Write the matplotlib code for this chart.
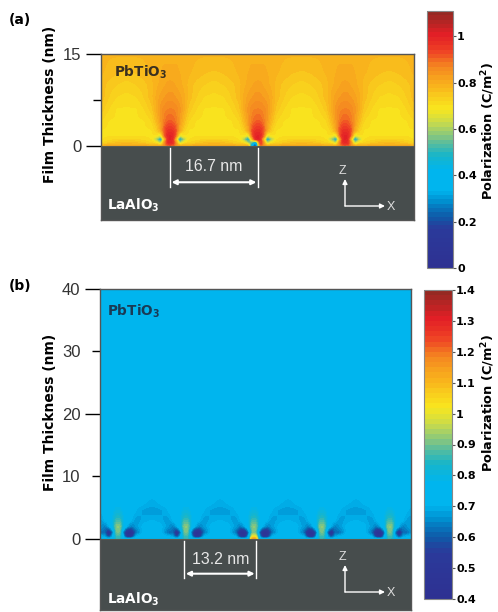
import numpy as np
import matplotlib
matplotlib.use('Agg')
import matplotlib.pyplot as plt
from matplotlib.colors import LinearSegmentedColormap

W, H = 498, 612
plt.rcParams['font.family'] = 'DejaVu Sans'
plt.rcParams['mathtext.default'] = 'regular'

# colours
cmap_stops = [(0.00, '#2e3192'), (0.15, '#2b3a9a'), (0.20, '#0f5aa8'), (0.26, '#0090d0'),
              (0.30, '#00b5ee'), (0.38, '#00b5ee'), (0.44, '#19b5c8'), (0.50, '#6fc08f'),
              (0.56, '#c3d950'), (0.62, '#f9e71e'), (0.70, '#f9b91c'), (0.78, '#f58a20'),
              (0.85, '#ee3d25'), (0.91, '#e21f26'), (1.00, '#8e2a22')]
cmap = LinearSegmentedColormap.from_list('pol', cmap_stops)
substrate = '#474d4d'

# panel (a): polarization over one period, mirrored around the dislocation
a_dx_half = [0.4, 1.1, 1.8, 2.6, 3.5, 5.0, 6.5, 8.35]
a_z = [0, 0.5, 1.1, 1.7, 2.5, 4, 6, 8, 10, 12, 15]
a_half = [[0.90, 0.85, 0.80, 0.80, 0.80, 0.80, 0.80, 0.80],
          [0.98, 0.85, 0.60, 0.70, 0.72, 0.74, 0.76, 0.77],
          [1.00, 0.76, 0.42, 0.58, 0.70, 0.71, 0.72, 0.72],
          [1.00, 0.90, 0.64, 0.70, 0.70, 0.70, 0.70, 0.70],
          [0.97, 0.92, 0.80, 0.73, 0.70, 0.70, 0.70, 0.70],
          [0.91, 0.88, 0.83, 0.77, 0.72, 0.70, 0.70, 0.70],
          [0.87, 0.86, 0.84, 0.80, 0.75, 0.72, 0.70, 0.70],
          [0.84, 0.83, 0.82, 0.80, 0.77, 0.74, 0.72, 0.715],
          [0.82, 0.81, 0.80, 0.79, 0.77, 0.75, 0.74, 0.73],
          [0.80, 0.80, 0.795, 0.79, 0.78, 0.77, 0.76, 0.755],
          [0.79, 0.79, 0.79, 0.785, 0.785, 0.78, 0.78, 0.78]]
a_centers = [13.2, 29.9, 46.6]
a_period = 16.7
a_xmax = 59.7
a_ticks = [0, 7.5, 15]
a_ticklabels = ['0', '', '15']
a_cbar_ticks = [0, 0.2, 0.4, 0.6, 0.8, 1]
a_cbar_labels = ['0', '0.2', '0.4', '0.6', '0.8', '1']
a_spacing = '16.7 nm'

# panel (b): same idea, thicker film
b_dx_half = [0.4, 1.0, 1.8, 2.6, 3.5, 5.0, 6.6]
b_z = [0, 0.4, 1, 2, 3, 4.5, 5.5, 7, 10, 40]
b_half = [[0.85, 0.72, 0.72, 0.72, 0.72, 0.72, 0.72],
          [0.86, 0.70, 0.47, 0.50, 0.70, 0.72, 0.72],
          [0.90, 0.62, 0.44, 0.44, 0.62, 0.72, 0.72],
          [0.92, 0.78, 0.68, 0.64, 0.67, 0.71, 0.72],
          [0.86, 0.79, 0.73, 0.70, 0.67, 0.69, 0.70],
          [0.80, 0.77, 0.74, 0.72, 0.70, 0.675, 0.665],
          [0.77, 0.75, 0.73, 0.72, 0.71, 0.70, 0.69],
          [0.74, 0.73, 0.725, 0.72, 0.715, 0.71, 0.705],
          [0.72, 0.72, 0.72, 0.715, 0.715, 0.71, 0.71],
          [0.72, 0.72, 0.72, 0.72, 0.72, 0.72, 0.72]]
b_centers = [3.5, 16.7, 29.9, 43.1, 56.3]
b_period = 13.2
b_xmax = 60.4
b_ticks = [0, 10, 20, 30, 40]
b_ticklabels = ['0', '10', '20', '30', '40']
b_cbar_ticks = [0.4, 0.5, 0.6, 0.7, 0.8, 0.9, 1, 1.1, 1.2, 1.3, 1.4]
b_cbar_labels = ['0.4', '0.5', '0.6', '0.7', '0.8', '0.9', '1', '1.1', '1.2', '1.3', '1.4']
b_spacing = '13.2 nm'
# outer lobe is smaller on these dislocations: (index, side)
b_small_lobes = [(0, -1), (1, -1), (3, 1), (4, 1)]


def px_axes(fig, left, top, right, bottom):
    return fig.add_axes([left / W, 1 - bottom / H, (right - left) / W, (bottom - top) / H])


def tile_field(dx_half, half, centers, period):
    half = np.array(half)
    dx = np.r_[-np.array(dx_half)[::-1], dx_half]
    cell = np.c_[half[:, ::-1], half]
    xs, vals = [], []
    for k in range(-1, len(centers) + 1):
        xs.append(centers[0] + k * period + dx)
        vals.append(cell)
    return np.concatenate(xs), np.hstack(vals)


def smooth(x, z, v, xmax, zmax):
    # resample onto a fine grid and blur a little, the scan of the original is soft
    xf = np.linspace(0, xmax, 500)
    zf = np.r_[np.linspace(0, 12, 220), np.linspace(12.1, zmax, 60)]
    tmp = np.array([np.interp(xf, x, row) for row in v])
    fine = np.array([np.interp(zf, z, tmp[:, i]) for i in range(len(xf))]).T
    box = np.ones(5) / 5
    fine = np.apply_along_axis(lambda r: np.convolve(np.pad(r, 2, mode='edge'), box, mode='valid'), 1, fine)
    fine = np.apply_along_axis(lambda r: np.convolve(np.pad(r, 2, mode='edge'), box, mode='valid'), 0, fine)
    return xf, zf, fine


def draw_panel(fig, box, cbox, x, z, v, xmax, zmax, zmin, vmin, vmax, ticks, ticklabels,
               cticks, clabels, lines):
    ax = px_axes(fig, *box)
    xf, zf, fine = smooth(x, z, v, xmax, zmax)
    levels = np.linspace(vmin, vmax, 61)
    cf = ax.contourf(xf, zf, np.clip(fine, vmin, vmax), levels=levels, cmap=cmap, vmin=vmin, vmax=vmax)
    ax.axhspan(zmin, 0, color=substrate, lw=0)
    ax.axhline(0, color='#5a5a50', lw=0.8)
    ax.set_xlim(0, xmax)
    ax.set_ylim(zmin, zmax)
    ax.set_xticks([])
    ax.set_yticks(ticks)
    ax.set_yticklabels(ticklabels, fontfamily='Liberation Sans', fontsize=12, color='#333333')
    ax.tick_params(axis='y', length=11, width=1, pad=3)
    for s in ax.spines.values():
        s.set_color('#555555')
        s.set_linewidth(1)

    # spacing marker
    for lx in lines:
        ax.plot([lx, lx], [zmin * 0.03, zmin * 0.55], color='white', lw=1)
    ax.annotate('', xy=(lines[0], zmin * 0.49), xytext=(lines[1], zmin * 0.49),
                arrowprops=dict(arrowstyle='<|-|>', color='white', lw=1.5, mutation_scale=7, shrinkA=1, shrinkB=1))

    cax = px_axes(fig, *cbox)
    cb = fig.colorbar(cf, cax=cax)
    cb.set_ticks(cticks)
    cb.set_ticklabels(clabels)
    cb.ax.tick_params(length=2, width=0.8, pad=1, labelsize=8, color='#555555')
    for t in cb.ax.get_yticklabels():
        t.set_fontweight('bold')
    cb.outline.set_edgecolor('#888888')
    return ax


def px_text(fig, px, py, s, **kw):
    fig.text(px / W, 1 - py / H, s, **kw)


def axes_marker(ax, fig, cx, cy, top, right):
    # little z/x direction marker, in pixels
    trans = fig.transFigure
    ax.annotate('', xy=(cx / W, 1 - top / H), xytext=(cx / W, 1 - cy / H), xycoords=trans, textcoords=trans,
                arrowprops=dict(arrowstyle='-|>', color='white', lw=1, mutation_scale=7, shrinkA=0, shrinkB=0))
    ax.annotate('', xy=(right / W, 1 - cy / H), xytext=(cx / W, 1 - cy / H), xycoords=trans, textcoords=trans,
                arrowprops=dict(arrowstyle='-|>', color='white', lw=1, mutation_scale=7, shrinkA=0, shrinkB=0))
    px_text(fig, cx - 3, top - 8, 'Z', color='#dddddd', ha='center', va='center', fontsize=9, fontfamily='Liberation Sans')
    px_text(fig, right + 6, cy + 1, 'X', color='#dddddd', ha='center', va='center', fontsize=9, fontfamily='Liberation Sans')


fig = plt.figure(figsize=(W / 100, H / 100), dpi=100)

xa, va = tile_field(a_dx_half, a_half, a_centers, a_period)
# blue spot under the middle dislocation: third tile, columns just left of centre
va = va.copy()
va[0, 39] = 0.12
va[1, 39] = 0.22
va[0, 38] = 0.30
va[1, 38] = 0.50
ax_a = draw_panel(fig, (101, 54, 414, 220), (427, 11, 453, 268), xa, a_z, va, a_xmax, 15, -12.07,
                  0, 1.11, a_ticks, a_ticklabels, a_cbar_ticks, a_cbar_labels, [13.2, 29.9])
ax_a.yaxis.get_major_ticks()[1].tick1line.set_markersize(6)

xb, vb = tile_field(b_dx_half, b_half, b_centers, b_period)
vb = vb.copy()
n_half = len(b_dx_half)
for k, side in b_small_lobes:
    # tile k+1, outer lobe columns at dx 1.8 and 2.6
    first = (k + 1) * 2 * n_half
    c18 = first + n_half + 2 if side > 0 else first + n_half - 3
    c26 = first + n_half + 3 if side > 0 else first + n_half - 4
    vb[1, c18], vb[2, c18] = 0.55, 0.46
    vb[1, c26], vb[2, c26] = 0.68, 0.62
# yellow tip at the third dislocation
vb[0, 3 * 2 * n_half + n_half - 1] = 1.15
vb[0, 3 * 2 * n_half + n_half] = 1.15
vb[1, 3 * 2 * n_half + n_half - 1] = 1.0
vb[1, 3 * 2 * n_half + n_half] = 1.0
ax_b = draw_panel(fig, (100, 289, 411, 610), (424, 290, 452, 599), xb, b_z, vb, b_xmax, 40, -11.4,
                  0.4, 1.4, b_ticks, b_ticklabels, b_cbar_ticks, b_cbar_labels, [16.4, 30.3])
ax_b.yaxis.get_major_ticks()[1].tick1line.set_markersize(6)
ax_b.yaxis.get_major_ticks()[3].tick1line.set_markersize(6)

label_kw = dict(fontweight='bold', rotation=90, ha='center', va='center', fontsize=10)
cbar_kw = dict(label_kw, fontsize=9.3)
px_text(fig, 50, 104, 'Film Thickness (nm)', **label_kw)
px_text(fig, 50, 412, 'Film Thickness (nm)', **label_kw)
px_text(fig, 488, 131, 'Polarization (C/m$^{2}$)', **cbar_kw)
px_text(fig, 488, 403, 'Polarization (C/m$^{2}$)', **cbar_kw)

px_text(fig, 20, 20, '(a)', fontweight='bold', fontsize=10, ha='center', va='center')
px_text(fig, 20, 286, '(b)', fontweight='bold', fontsize=10, ha='center', va='center')

name_kw = dict(fontweight='bold', fontsize=9.8, ha='left', va='center')
px_text(fig, 114, 72, 'PbTiO$_{3}$', color='#3a3020', **name_kw)
px_text(fig, 107, 311, 'PbTiO$_{3}$', color='#1a3a55', **name_kw)
px_text(fig, 107, 205, 'LaAlO$_{3}$', color='white', **name_kw)
px_text(fig, 107, 599, 'LaAlO$_{3}$', color='white', **name_kw)

px_text(fig, 214, 167, a_spacing, color='#e8e8e8', fontsize=11.4, ha='center', va='center', fontfamily='Liberation Sans')
px_text(fig, 221, 560, b_spacing, color='#e8e8e8', fontsize=11.4, ha='center', va='center', fontfamily='Liberation Sans')

axes_marker(ax_a, fig, 345, 206, 179, 385)
axes_marker(ax_b, fig, 345, 592, 565, 385)

fig.savefig('out.png', dpi=100)
